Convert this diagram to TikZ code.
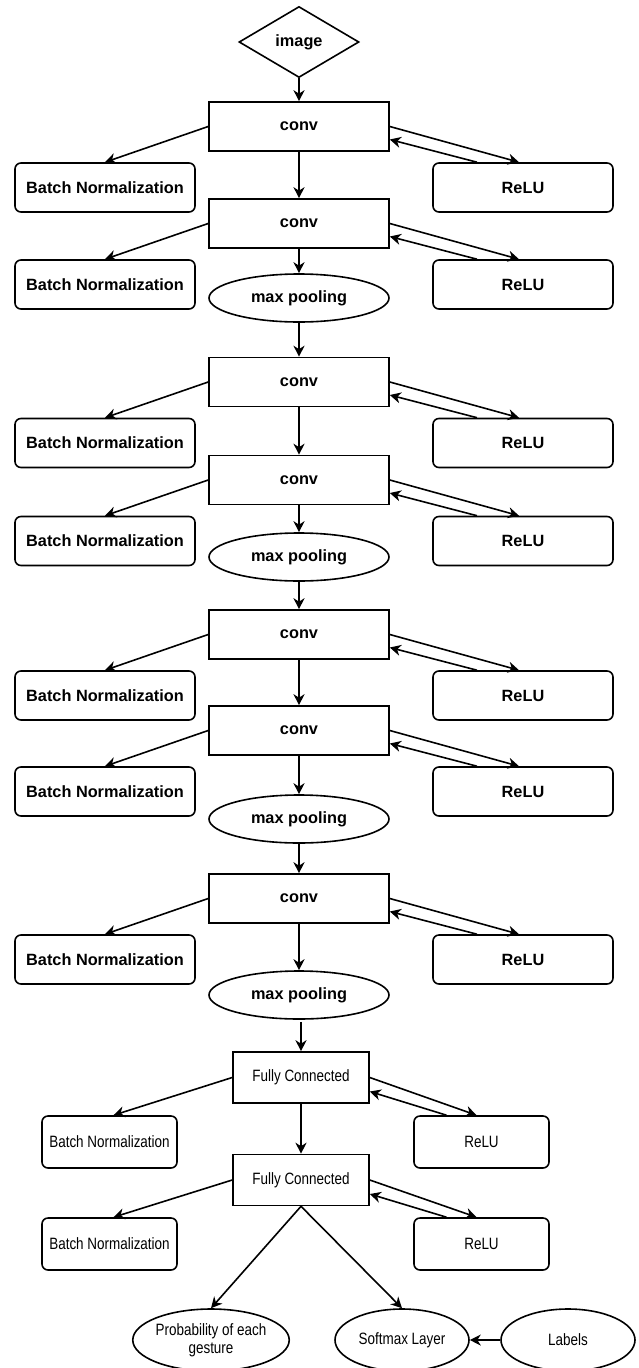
\documentclass[tikz,border=0pt]{standalone}
\usepackage{fontspec}
\setmainfont{Liberation Sans}
\newfontfamily\narrowfont[FakeStretch=0.82]{Liberation Sans}
\usetikzlibrary{shapes.geometric,arrows.meta}
\begin{document}
\begin{tikzpicture}[x=1pt,y=-1pt,
  line width=1.6pt,
  arr/.style={-{Stealth[length=11pt,width=11pt,inset=3.5pt]}},
  bigfont/.style={font=\fontsize{16.3}{19}\selectfont\bfseries},
  smallfont/.style={font=\narrowfont\fontsize{16.4}{18}\selectfont},
  layer/.style={draw, rectangle, minimum width=180pt, minimum height=49pt, inner sep=0pt, bigfont},
  side/.style={draw, rounded corners=6pt, minimum width=180pt, minimum height=49pt, inner sep=0pt, bigfont},
  pool/.style={draw, ellipse, minimum width=180pt, minimum height=48pt, inner sep=0pt, bigfont},
  fc/.style={draw, rectangle, minimum width=136pt, minimum height=51pt, inner sep=0pt, smallfont},
  fcside/.style={draw, rounded corners=6pt, minimum width=135pt, minimum height=52pt, inner sep=0pt, smallfont},
  outnode/.style={draw, ellipse, minimum width=134pt, minimum height=62pt, inner sep=0pt, smallfont, align=center},
  inputnode/.style={draw, diamond, minimum width=120pt, minimum height=71pt, inner sep=0pt, bigfont},
]
\useasboundingbox (0,0) rectangle (638,1368);

\node[inputnode] (img) at (299,42) {image};

\foreach \i/\y in {1/126.5, 2/223.5, 3/382, 4/480, 5/634.5, 6/730.5, 7/898.5}{
  \node[layer] (c\i) at (299,\y) {conv};
  \node[side] (bn\i) at (105,\y+61) {Batch Normalization};
  \node[side] (re\i) at (523,\y+61) {ReLU};
}

\node[pool] (mp1) at (299,298) {max pooling};
\node[pool] (mp2) at (299,557) {max pooling};
\node[pool] (mp3) at (299,819) {max pooling};
\node[pool] (mp4) at (299,995) {max pooling};

\node[fc] (fc1) at (301,1077.5) {Fully Connected};
\node[fc] (fc2) at (301,1180) {Fully Connected};
\node[fcside] (bn8) at (109.5,1142) {Batch Normalization};
\node[fcside] (re8) at (481.5,1142) {ReLU};
\node[fcside] (bn9) at (109.5,1244) {Batch Normalization};
\node[fcside] (re9) at (481.5,1244) {ReLU};

\node[outnode] (prob) at (211,1340) {Probability of each\\gesture};
\node[outnode] (soft) at (402,1340) {Softmax Layer};
\node[outnode] (lab) at (568,1340) {Labels};

% conv side connectors
\foreach \i in {1,...,7}{
  \draw[arr] (c\i.west) -- (bn\i.north);
  \draw[arr] (c\i.east) -- ([xshift=-4pt]re\i.north);
  \draw[arr] ([xshift=-46pt]re\i.north) -- ([yshift=-13pt]c\i.east);
}

% main chain
\draw[arr] (img) -- (c1);
\draw[arr] (c1) -- (c2);
\draw[arr] (c2) -- (mp1);
\draw[arr] (mp1) -- (c3);
\draw[arr] (c3) -- (c4);
\draw[arr] (c4) -- (mp2);
\draw[arr] (mp2) -- (c5);
\draw[arr] (c5) -- (c6);
\draw[arr] (c6) -- (mp3);
\draw[arr] (mp3) -- (c7);
\draw[arr] (c7) -- (mp4);
\draw[arr] ([xshift=2pt,yshift=-2pt]mp4.south) -- ([xshift=0pt]fc1.north);
\draw[arr] (fc1) -- (fc2);

% FC side connectors
\draw[arr] (fc1.west) -- ([xshift=4pt]bn8.north);
\draw[arr] (fc1.east) -- ([xshift=-5pt]re8.north);
\draw[arr] ([xshift=-35pt]re8.north) -- ([yshift=-14pt]fc1.east);
\draw[arr] (fc2.west) -- ([xshift=4pt]bn9.north);
\draw[arr] (fc2.east) -- ([xshift=-5pt]re9.north);
\draw[arr] ([xshift=-35pt]re9.north) -- ([yshift=-14pt]fc2.east);

% outputs
\draw[arr] (fc2.south) -- (prob.north);
\draw[arr] (fc2.south) -- (soft.north);
\draw[arr] (lab.west) -- (soft.east);
\end{tikzpicture}
\end{document}
